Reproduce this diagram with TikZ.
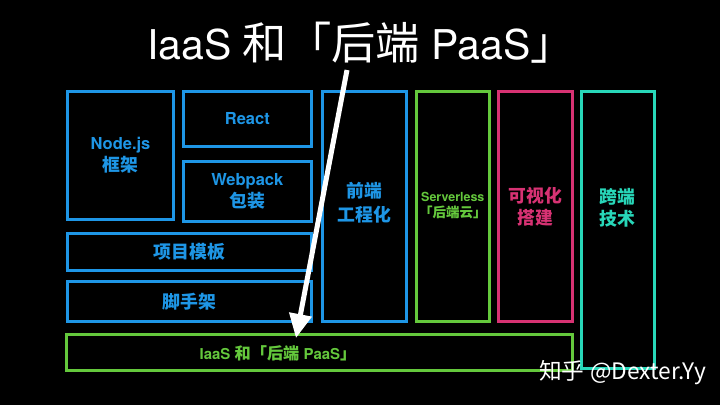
\documentclass[tikz,border=0pt]{standalone}
\usepackage{fontspec}
\setmainfont{TeX Gyre Heros}
\newfontfamily\cjk[Scale=1.08]{Noto Sans CJK SC}
\usetikzlibrary{arrows.meta}
\definecolor{cblue}{RGB}{30,150,230}
\definecolor{cgreen}{RGB}{100,200,60}
\definecolor{cpink}{RGB}{215,50,115}
\definecolor{cteal}{RGB}{40,215,185}
\newcommand{\cj}[1]{{\cjk #1}}
\begin{document}
\begin{tikzpicture}[x=1pt,y=-1pt,
  box/.style={draw=#1,text=#1,line width=3pt,inner sep=0pt,align=center,
    font=\bfseries\fontsize{16.5}{22}\selectfont},
  lbl/.style={text=#1,inner sep=0pt,align=center,font=\bfseries\fontsize{16.5}{22}\selectfont}]
\fill[black] (0,0) rectangle (720,405);
\useasboundingbox (0,0) rectangle (720,405);
% blue column
\node[box=cblue,minimum width=106,minimum height=127.5] (nodejs) at (120.5,155.3) {Node.js\\\cj{框架}};
\node[box=cblue,minimum width=127.5,minimum height=54.5] (react) at (247.3,118.8) {React};
\node[box=cblue,minimum width=127.5,minimum height=60] (webpack) at (247.3,191) {Webpack\\\cj{包装}};
\node[box=cblue,minimum width=243.5,minimum height=37] (tmpl) at (189.3,251.5) {\cj{项目模板}};
\node[box=cblue,minimum width=243.5,minimum height=39.5] (scaff) at (189.3,301.3) {\cj{脚手架}};
\node[box=cblue,minimum width=83.5,minimum height=229.5] (fe) at (364.3,206.3) {};
\node[lbl=cblue,font=\bfseries\fontsize{16.5}{24}\selectfont] (felbl) at (364.3,202.5) {\cj{前端}\\\cj{工程化}};
% green
\node[box=cgreen,minimum width=72.5,minimum height=229.5] (sls) at (452.8,206.3) {};
\node[lbl=cgreen,font=\bfseries\fontsize{12.5}{16}\selectfont] (slslbl) at (452.8,205.5) {Serverless\\\cj{「后端云」}};
% pink
\node[box=cpink,minimum width=73.5,minimum height=229.5] (vis) at (535.3,206.3) {};
\node[lbl=cpink] (vislbl) at (535.3,207) {\cj{可视化}\\\cj{搭建}};
% teal
\node[box=cteal,minimum width=72.5,minimum height=277] (cross) at (617.8,230) {};
\node[lbl=cteal] (crosslbl) at (617.8,208) {\cj{跨端}\\\cj{技术}};
% bottom
\node[box=cgreen,minimum width=505.5,minimum height=36] (iaas) at (319.3,352.5) {};
\node[lbl=cgreen,font=\bfseries\fontsize{15}{20}\selectfont] (iaaslbl) at (278,353) {IaaS \cj{和「后端} PaaS\cj{」}};
% title
\node[text=white,inner sep=0pt,font=\fontsize{41}{44}\selectfont] (title) at (361,43) {IaaS \cj{和「后端} PaaS\cj{」}};
\coordinate (astart) at (347,70);
\coordinate (aend) at (296,338);
\draw[white,line width=5pt,-{Triangle[length=24pt,width=22pt]}] (astart) -- (aend);
% watermark
\node[text=white,inner sep=0pt,anchor=west,font=\fontsize{21}{24}\selectfont] (wm) at (539,373) {\cj{知乎} \cj{@Dexter.Yy}};
\end{tikzpicture}
\end{document}
